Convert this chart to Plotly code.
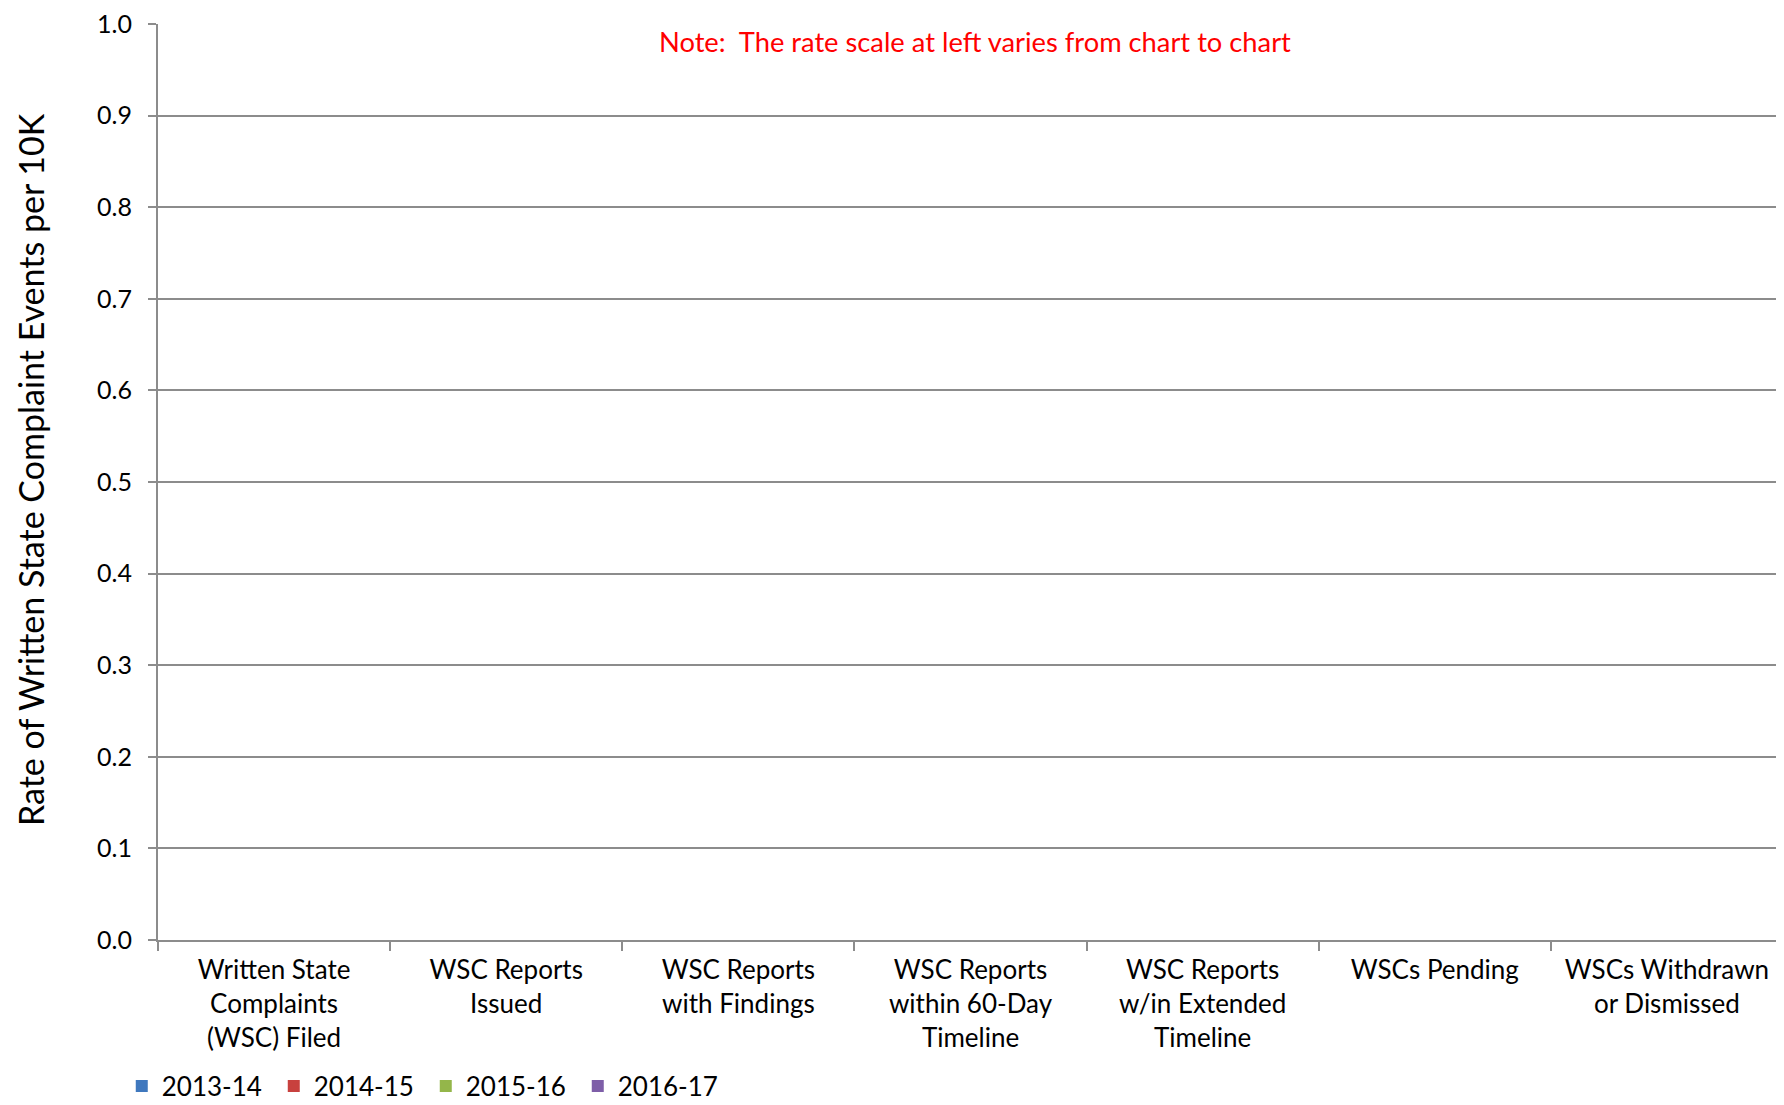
import plotly.graph_objects as go

categories = [
    "Written State<br>Complaints<br>(WSC) Filed",
    "WSC Reports<br>Issued",
    "WSC Reports<br>with Findings",
    "WSC Reports<br>within 60-Day<br>Timeline",
    "WSC Reports<br>w/in Extended<br>Timeline",
    "WSCs Pending",
    "WSCs Withdrawn<br>or Dismissed",
]
series_names = ["2013-14", "2014-15", "2015-16", "2016-17"]
values_2013_14 = [0, 0, 0, 0, 0, 0, 0]
values_2014_15 = [0, 0, 0, 0, 0, 0, 0]
values_2015_16 = [0, 0, 0, 0, 0, 0, 0]
values_2016_17 = [0, 0, 0, 0, 0, 0, 0]
series_values = [values_2013_14, values_2014_15, values_2015_16, values_2016_17]
colors = ["#3F78BE", "#C8413E", "#94B64A", "#7E5EA8"]
y_ticks = [0.0, 0.1, 0.2, 0.3, 0.4, 0.5, 0.6, 0.7, 0.8, 0.9, 1.0]

FONT = "Lato, 'Open Sans', sans-serif"
GRID = "#8C8C8C"

fig = go.Figure()
for name, vals, col in zip(series_names, series_values, colors):
    fig.add_trace(go.Bar(x=categories, y=vals, name=name,
                         marker=dict(color=col, line=dict(width=0))))

# page body has an 8px default margin; compensate so the plot lands where the reference has it
OFF = 8
TOP = 24
W, H = 1784 - OFF, 1105 - OFF
L, R, T, B = 158 - OFF, 1, TOP - OFF, 173 - OFF
PW = W - L - R
PH = H - T - B

fig.update_layout(
    width=W, height=H,
    margin=dict(l=L, r=R, t=T, b=B, autoexpand=False),
    paper_bgcolor="white", plot_bgcolor="white",
    font=dict(family=FONT, size=26, color="#000000"),
    barmode="group",
    showlegend=True,
    legend=dict(orientation="h", x=-0.0223, xanchor="left", y=-(1078 - 932) / PH, yanchor="middle",
                font=dict(size=26, family=FONT), entrywidth=107, entrywidthmode="pixels",
                itemwidth=30, bgcolor="rgba(0,0,0,0)", traceorder="normal"),
    xaxis=dict(type="category", showgrid=False, showline=True, linecolor=GRID, linewidth=2,
               ticks="outside", ticklen=9, tickwidth=2, tickcolor=GRID,
               tickson="boundaries", tickfont=dict(size=26, family=FONT),
               ticklabelstandoff=6, automargin=False, fixedrange=True),
    yaxis=dict(range=[0, 1.0], tickvals=y_ticks, ticktext=[f"{v:.1f}" for v in y_ticks],
               showgrid=True, gridcolor=GRID, gridwidth=2,
               showline=True, linecolor=GRID, linewidth=2,
               ticks="outside", ticklen=8, tickwidth=2, tickcolor=GRID,
               tickfont=dict(size=25, family=FONT), ticklabelstandoff=11,
               ticklabeloverflow="allow",
               zeroline=False, automargin=False, fixedrange=True),
    annotations=[
        dict(text="Note:  The rate scale at left varies from chart to chart",
             xref="paper", yref="paper", x=0.503, y=1 - (42 - TOP) / PH, xanchor="center", yanchor="middle",
             showarrow=False, font=dict(size=27.3, color="#FF0000", family=FONT)),
        dict(text="Rate of Written State Complaint Events per 10K",
             xref="paper", yref="paper", x=-(158 - 30) / PW, y=1 - (470 - TOP) / PH,
             xanchor="center", yanchor="middle", textangle=-90,
             showarrow=False, font=dict(size=34, color="#000000", family=FONT)),
    ],
)

fig.write_html("out.html")
